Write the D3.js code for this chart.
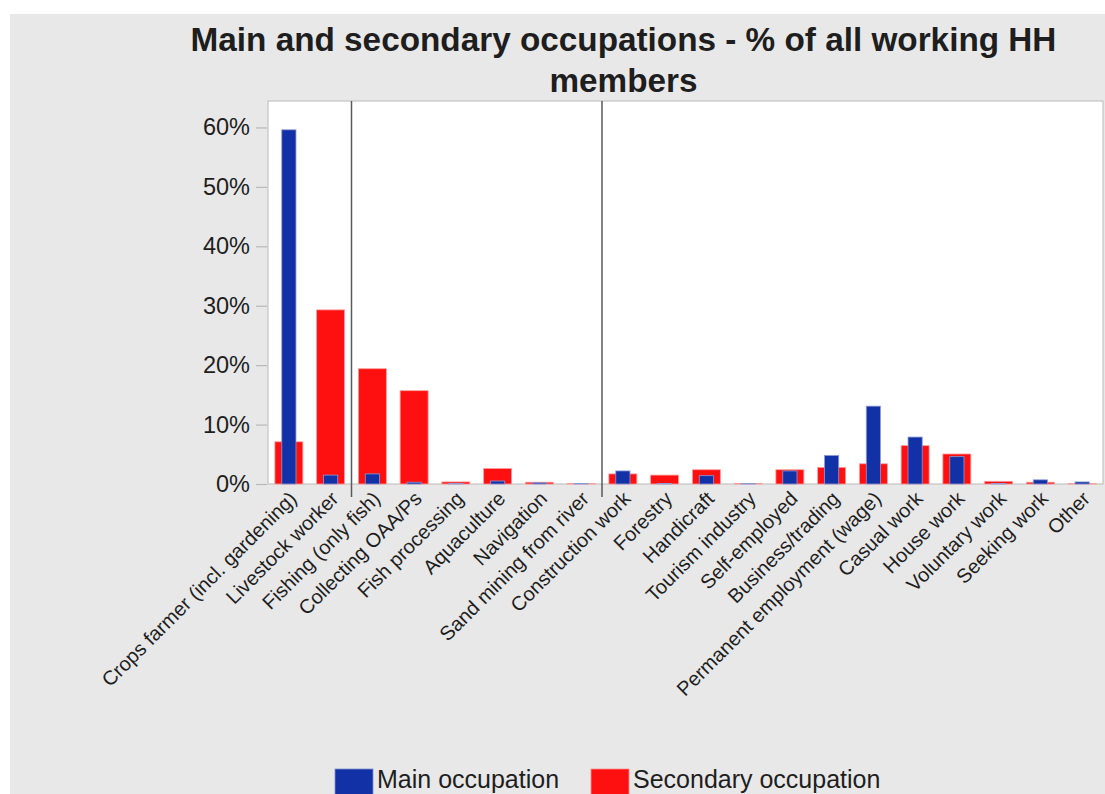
<!DOCTYPE html>
<html>
<head>
<meta charset="utf-8">
<script src="https://cdn.jsdelivr.net/npm/d3@7"></script>
<style>
  html, body { margin: 0; padding: 0; background: #ffffff; }
  svg { display: block; }
  text { font-family: "Liberation Sans", Arial, Helvetica, sans-serif; fill: #1e1e1e; }
</style>
</head>
<body>
<svg id="chart" width="1105" height="794"></svg>
<script>
// Occupation categories, in display order
const categories = [
  "Crops farmer (incl. gardening)", "Livestock worker", "Fishing (only fish)",
  "Collecting OAA/Ps", "Fish processing", "Aquaculture", "Navigation",
  "Sand mining from river", "Construction work", "Forestry", "Handicraft",
  "Tourism industry", "Self-employed", "Business/trading",
  "Permanent employment (wage)", "Casual work", "House work",
  "Voluntary work", "Seeking work", "Other"
];

// Share of all working household members, in percent
const mainOccupation = [
  59.6, 1.5, 1.7, 0.3, 0.1, 0.5, 0.2, 0.1, 2.2, 0.1,
  1.4, 0.1, 2.2, 4.8, 13.1, 7.9, 4.6, 0.1, 0.7, 0.35
];
const secondaryOccupation = [
  7.1, 29.3, 19.4, 15.7, 0.35, 2.6, 0.3, 0.1, 1.7, 1.5,
  2.4, 0.05, 2.4, 2.8, 3.4, 6.45, 5.05, 0.45, 0.3, 0.1
];

const yTicks = [0, 10, 20, 30, 40, 50, 60];

// Group dividers sit after these category indices
const groupBreaks = [1, 7];

const seriesNames = ["Main occupation", "Secondary occupation"];
const colors = { main: "#1231a6", secondary: "#fe1010" };

const svg = d3.select("#chart");
const W = 1105, H = 794;

// Page panel
svg.append("rect").attr("x", 0).attr("y", 0).attr("width", W).attr("height", H).attr("fill", "#ffffff");
svg.append("rect").attr("x", 10).attr("y", 14).attr("width", W - 10).attr("height", H - 14).attr("fill", "#e8e8e8");

const plot = { left: 268, right: 1103, top: 101, bottom: 484 };

const x = d3.scaleBand()
  .domain(categories)
  .range([plot.left, plot.right])
  .paddingInner(0)
  .paddingOuter(0);

const y = d3.scaleLinear()
  .domain([0, 64.45])
  .range([plot.bottom, plot.top]);

// Plot background and frame
svg.append("rect")
  .attr("x", plot.left).attr("y", plot.top)
  .attr("width", plot.right - plot.left).attr("height", plot.bottom - plot.top)
  .attr("fill", "#ffffff")
  .attr("stroke", "#c4c4c4").attr("stroke-width", 1.2);

// Title
const title = svg.append("text")
  .attr("text-anchor", "middle")
  .style("font-size", "33.3px")
  .style("font-weight", "bold");
title.append("tspan").attr("x", 623.5).attr("y", 51).text("Main and secondary occupations - % of all working HH");
title.append("tspan").attr("x", 623.5).attr("y", 92).text("members");

// Y axis
const yAxis = d3.axisLeft(y)
  .tickValues(yTicks)
  .tickFormat(d => d + "%")
  .tickSize(11)
  .tickPadding(6);

const yG = svg.append("g")
  .attr("transform", `translate(${plot.left - 1},0)`)
  .call(yAxis);
yG.select(".domain").remove();
yG.selectAll(".tick line").attr("stroke", "#b8b8b8").attr("stroke-width", 1.2);
yG.selectAll(".tick text")
  .style("font-size", "23.5px")
  .attr("fill", "#1e1e1e");

// X axis labels (rotated)
const xAxis = d3.axisBottom(x).tickSize(0).tickPadding(0);
const xG = svg.append("g")
  .attr("transform", `translate(0,${plot.bottom})`)
  .call(xAxis);
xG.select(".domain").remove();
xG.selectAll(".tick text")
  .style("font-size", "20px")
  .attr("fill", "#1e1e1e")
  .attr("text-anchor", "end")
  .attr("dy", 0)
  .attr("y", 0)
  .attr("transform", "translate(9,16) rotate(-45)");

// Bars: secondary first (wider), main on top (narrower)
const bw = x.bandwidth();
const secW = bw * 0.67;
const mainW = bw * 0.34;

const barsG = svg.append("g");

barsG.selectAll("rect.secondary")
  .data(categories)
  .join("rect")
  .attr("class", "secondary")
  .attr("x", d => x(d) + (bw - secW) / 2)
  .attr("width", secW)
  .attr("y", (d, i) => y(secondaryOccupation[i]))
  .attr("height", (d, i) => y(0) - y(secondaryOccupation[i]))
  .attr("fill", colors.secondary)
  .attr("stroke", "#ff9c9c").attr("stroke-width", 0.8);

barsG.selectAll("rect.main")
  .data(categories)
  .join("rect")
  .attr("class", "main")
  .attr("x", d => x(d) + (bw - mainW) / 2)
  .attr("width", mainW)
  .attr("y", (d, i) => y(mainOccupation[i]))
  .attr("height", (d, i) => y(0) - y(mainOccupation[i]))
  .attr("fill", colors.main)
  .attr("stroke", "#8c9bd8").attr("stroke-width", 0.8);

// Group dividers
svg.append("g").selectAll("line")
  .data(groupBreaks)
  .join("line")
  .attr("x1", i => x(categories[i]) + bw)
  .attr("x2", i => x(categories[i]) + bw)
  .attr("y1", plot.top)
  .attr("y2", plot.bottom + 13)
  .attr("stroke", "#5a5a5a")
  .attr("stroke-width", 1.5);

// Legend
const legend = [
  { name: seriesNames[0], color: colors.main, x: 335 },
  { name: seriesNames[1], color: colors.secondary, x: 591 }
];
const lg = svg.append("g").selectAll("g")
  .data(legend)
  .join("g")
  .attr("transform", d => `translate(${d.x},769)`);
lg.append("rect")
  .attr("width", 38).attr("height", 28)
  .attr("fill", d => d.color)
  .attr("stroke", d => d.color === colors.main ? "#7f8fd0" : "#ff9090")
  .attr("stroke-width", 0.8);
lg.append("text")
  .attr("x", 42).attr("y", 19)
  .style("font-size", "25px")
  .text(d => d.name);
</script>
</body>
</html>
